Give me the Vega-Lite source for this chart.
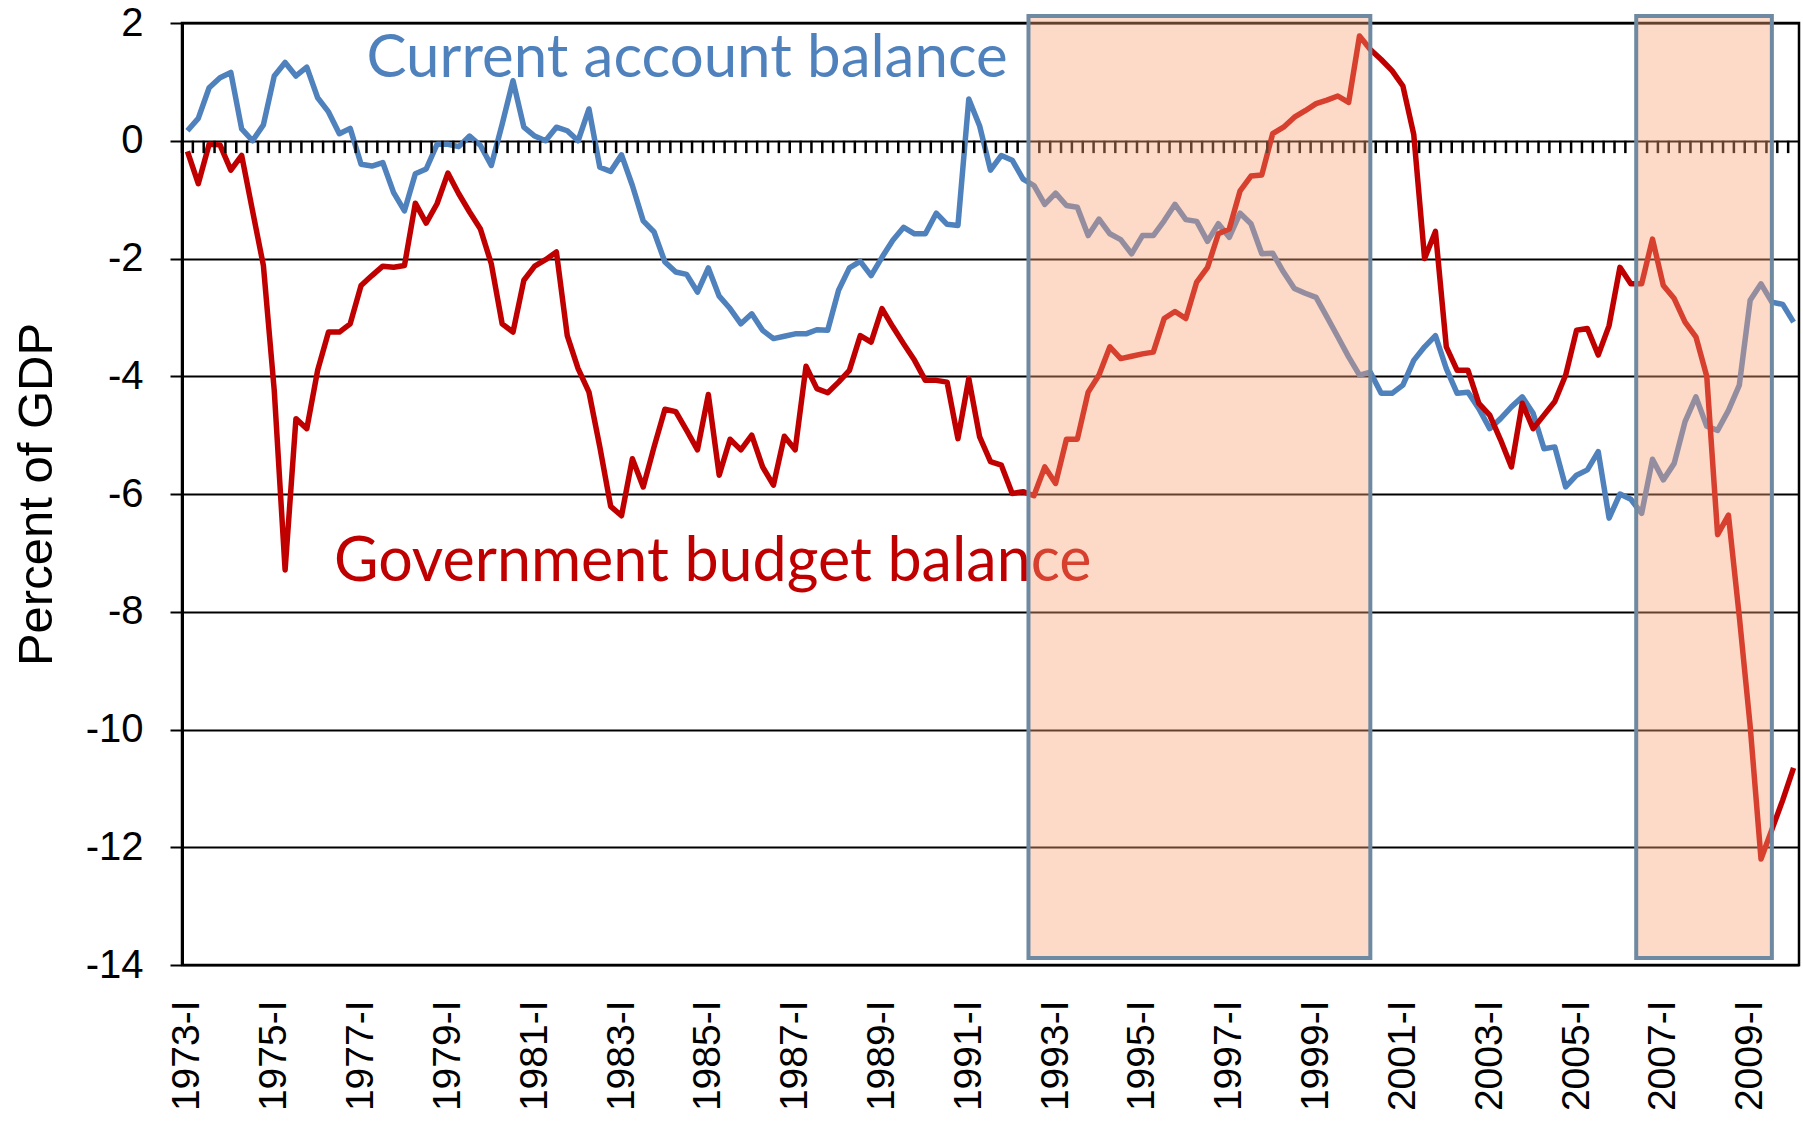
{
  "$schema": "https://vega.github.io/schema/vega-lite/v6.json",
  "width": 1617,
  "height": 942,
  "autosize": {"type": "none"},
  "padding": {"left": 182, "top": 23, "right": 4, "bottom": 158},
  "background": "white",
  "config": {
    "view": {"stroke": "black", "strokeWidth": 2.5},
    "font": "Liberation Sans"
  },
  "datasets": {
    "series": [
      {"q":"1973-I","ca":0.17,"gb":-0.18},{"q":"1973-II","ca":0.38,"gb":-0.73},{"q":"1973-III","ca":0.90,"gb":-0.06},{"q":"1973-IV","ca":1.07,"gb":-0.07},
      {"q":"1974-I","ca":1.16,"gb":-0.50},{"q":"1974-II","ca":0.20,"gb":-0.25},{"q":"1974-III","ca":0.00,"gb":-1.19},{"q":"1974-IV","ca":0.27,"gb":-2.12},
      {"q":"1975-I","ca":1.10,"gb":-4.24},{"q":"1975-II","ca":1.33,"gb":-7.29},{"q":"1975-III","ca":1.10,"gb":-4.72},{"q":"1975-IV","ca":1.25,"gb":-4.89},
      {"q":"1976-I","ca":0.73,"gb":-3.90},{"q":"1976-II","ca":0.49,"gb":-3.25},{"q":"1976-III","ca":0.12,"gb":-3.25},{"q":"1976-IV","ca":0.21,"gb":-3.11},
      {"q":"1977-I","ca":-0.40,"gb":-2.46},{"q":"1977-II","ca":-0.43,"gb":-2.29},{"q":"1977-III","ca":-0.37,"gb":-2.13},{"q":"1977-IV","ca":-0.88,"gb":-2.15},
      {"q":"1978-I","ca":-1.19,"gb":-2.12},{"q":"1978-II","ca":-0.56,"gb":-1.06},{"q":"1978-III","ca":-0.48,"gb":-1.40},{"q":"1978-IV","ca":-0.06,"gb":-1.07},
      {"q":"1979-I","ca":-0.06,"gb":-0.55},{"q":"1979-II","ca":-0.10,"gb":-0.90},{"q":"1979-III","ca":0.08,"gb":-1.21},{"q":"1979-IV","ca":-0.08,"gb":-1.50},
      {"q":"1980-I","ca":-0.42,"gb":-2.09},{"q":"1980-II","ca":0.28,"gb":-3.11},{"q":"1980-III","ca":1.02,"gb":-3.25},{"q":"1980-IV","ca":0.23,"gb":-2.37},
      {"q":"1981-I","ca":0.08,"gb":-2.13},{"q":"1981-II","ca":0.00,"gb":-2.02},{"q":"1981-III","ca":0.23,"gb":-1.89},{"q":"1981-IV","ca":0.17,"gb":-3.31},
      {"q":"1982-I","ca":0.00,"gb":-3.87},{"q":"1982-II","ca":0.54,"gb":-4.27},{"q":"1982-III","ca":-0.45,"gb":-5.20},{"q":"1982-IV","ca":-0.52,"gb":-6.21},
      {"q":"1983-I","ca":-0.24,"gb":-6.37},{"q":"1983-II","ca":-0.76,"gb":-5.40},{"q":"1983-III","ca":-1.36,"gb":-5.88},{"q":"1983-IV","ca":-1.55,"gb":-5.20},
      {"q":"1984-I","ca":-2.06,"gb":-4.56},{"q":"1984-II","ca":-2.23,"gb":-4.60},{"q":"1984-III","ca":-2.27,"gb":-4.92},{"q":"1984-IV","ca":-2.57,"gb":-5.25},
      {"q":"1985-I","ca":-2.16,"gb":-4.31},{"q":"1985-II","ca":-2.64,"gb":-5.68},{"q":"1985-III","ca":-2.85,"gb":-5.07},{"q":"1985-IV","ca":-3.11,"gb":-5.25},
      {"q":"1986-I","ca":-2.94,"gb":-5.00},{"q":"1986-II","ca":-3.22,"gb":-5.54},{"q":"1986-III","ca":-3.36,"gb":-5.85},{"q":"1986-IV","ca":-3.32,"gb":-5.02},
      {"q":"1987-I","ca":-3.28,"gb":-5.25},{"q":"1987-II","ca":-3.28,"gb":-3.83},{"q":"1987-III","ca":-3.21,"gb":-4.21},{"q":"1987-IV","ca":-3.22,"gb":-4.28},
      {"q":"1988-I","ca":-2.54,"gb":-4.10},{"q":"1988-II","ca":-2.16,"gb":-3.90},{"q":"1988-III","ca":-2.05,"gb":-3.31},{"q":"1988-IV","ca":-2.29,"gb":-3.42},
      {"q":"1989-I","ca":-1.98,"gb":-2.85},{"q":"1989-II","ca":-1.69,"gb":-3.16},{"q":"1989-III","ca":-1.47,"gb":-3.45},{"q":"1989-IV","ca":-1.58,"gb":-3.73},
      {"q":"1990-I","ca":-1.58,"gb":-4.07},{"q":"1990-II","ca":-1.23,"gb":-4.07},{"q":"1990-III","ca":-1.42,"gb":-4.10},{"q":"1990-IV","ca":-1.44,"gb":-5.06},
      {"q":"1991-I","ca":0.71,"gb":-4.04},{"q":"1991-II","ca":0.25,"gb":-5.03},{"q":"1991-III","ca":-0.50,"gb":-5.45},{"q":"1991-IV","ca":-0.25,"gb":-5.51},
      {"q":"1992-I","ca":-0.33,"gb":-5.99},{"q":"1992-II","ca":-0.65,"gb":-5.96},{"q":"1992-III","ca":-0.76,"gb":-6.03},{"q":"1992-IV","ca":-1.08,"gb":-5.54},
      {"q":"1993-I","ca":-0.89,"gb":-5.82},{"q":"1993-II","ca":-1.10,"gb":-5.07},{"q":"1993-III","ca":-1.13,"gb":-5.07},{"q":"1993-IV","ca":-1.61,"gb":-4.27},
      {"q":"1994-I","ca":-1.33,"gb":-3.98},{"q":"1994-II","ca":-1.58,"gb":-3.50},{"q":"1994-III","ca":-1.68,"gb":-3.70},{"q":"1994-IV","ca":-1.92,"gb":-3.66},
      {"q":"1995-I","ca":-1.61,"gb":-3.62},{"q":"1995-II","ca":-1.61,"gb":-3.59},{"q":"1995-III","ca":-1.36,"gb":-3.02},{"q":"1995-IV","ca":-1.08,"gb":-2.90},
      {"q":"1996-I","ca":-1.34,"gb":-3.02},{"q":"1996-II","ca":-1.37,"gb":-2.40},{"q":"1996-III","ca":-1.71,"gb":-2.15},{"q":"1996-IV","ca":-1.41,"gb":-1.58},
      {"q":"1997-I","ca":-1.64,"gb":-1.50},{"q":"1997-II","ca":-1.23,"gb":-0.85},{"q":"1997-III","ca":-1.41,"gb":-0.60},{"q":"1997-IV","ca":-1.92,"gb":-0.58},
      {"q":"1998-I","ca":-1.91,"gb":0.12},{"q":"1998-II","ca":-2.23,"gb":0.23},{"q":"1998-III","ca":-2.51,"gb":0.40},{"q":"1998-IV","ca":-2.59,"gb":0.51},
      {"q":"1999-I","ca":-2.66,"gb":0.63},{"q":"1999-II","ca":-2.99,"gb":0.69},{"q":"1999-III","ca":-3.33,"gb":0.76},{"q":"1999-IV","ca":-3.67,"gb":0.65},
      {"q":"2000-I","ca":-3.98,"gb":1.78},{"q":"2000-II","ca":-3.93,"gb":1.55},{"q":"2000-III","ca":-4.29,"gb":1.38},{"q":"2000-IV","ca":-4.29,"gb":1.19},
      {"q":"2001-I","ca":-4.15,"gb":0.93},{"q":"2001-II","ca":-3.73,"gb":0.11},{"q":"2001-III","ca":-3.50,"gb":-2.00},{"q":"2001-IV","ca":-3.31,"gb":-1.54},
      {"q":"2002-I","ca":-3.87,"gb":-3.50},{"q":"2002-II","ca":-4.29,"gb":-3.90},{"q":"2002-III","ca":-4.27,"gb":-3.90},{"q":"2002-IV","ca":-4.55,"gb":-4.46},
      {"q":"2003-I","ca":-4.89,"gb":-4.66},{"q":"2003-II","ca":-4.72,"gb":-5.08},{"q":"2003-III","ca":-4.52,"gb":-5.54},{"q":"2003-IV","ca":-4.35,"gb":-4.46},
      {"q":"2004-I","ca":-4.63,"gb":-4.89},{"q":"2004-II","ca":-5.23,"gb":-4.66},{"q":"2004-III","ca":-5.20,"gb":-4.43},{"q":"2004-IV","ca":-5.88,"gb":-3.98},
      {"q":"2005-I","ca":-5.68,"gb":-3.22},{"q":"2005-II","ca":-5.59,"gb":-3.19},{"q":"2005-III","ca":-5.28,"gb":-3.64},{"q":"2005-IV","ca":-6.41,"gb":-3.14},
      {"q":"2006-I","ca":-6.00,"gb":-2.15},{"q":"2006-II","ca":-6.09,"gb":-2.43},{"q":"2006-III","ca":-6.33,"gb":-2.43},{"q":"2006-IV","ca":-5.41,"gb":-1.67},
      {"q":"2007-I","ca":-5.76,"gb":-2.46},{"q":"2007-II","ca":-5.48,"gb":-2.68},{"q":"2007-III","ca":-4.77,"gb":-3.08},{"q":"2007-IV","ca":-4.35,"gb":-3.33},
      {"q":"2008-I","ca":-4.85,"gb":-4.00},{"q":"2008-II","ca":-4.92,"gb":-6.69},{"q":"2008-III","ca":-4.58,"gb":-6.36},{"q":"2008-IV","ca":-4.15,"gb":-8.08},
      {"q":"2009-I","ca":-2.71,"gb":-9.94},{"q":"2009-II","ca":-2.43,"gb":-12.2},{"q":"2009-III","ca":-2.74,"gb":-11.7},{"q":"2009-IV","ca":-2.78,"gb":-11.2},
      {"q":"2010-I","ca":-3.08,"gb":-10.65}
    ],
    "periods": [
      {"start": "1992-III", "end": "2000-II"},
      {"start": "2006-III", "end": "2009-III"}
    ]
  },
  "encoding": {},
  "layer": [
    {
      "data": {"name": "series"},
      "mark": {"type": "line", "color": "#4F81BD", "strokeWidth": 5.5, "strokeJoin": "round"},
      "encoding": {
        "x": {
          "field": "q", "type": "ordinal", "sort": null, "bandPosition": 0.5,
          "scale": {"type": "band", "paddingInner": 0, "paddingOuter": 0},
          "axis": {
            "orient": "bottom",
            "title": null,
            "values": ["1973-I","1975-I","1977-I","1979-I","1981-I","1983-I","1985-I","1987-I","1989-I","1991-I","1993-I","1995-I","1997-I","1999-I","2001-I","2003-I","2005-I","2007-I","2009-I"],
            "labelAngle": -90,
            "labelAlign": "right",
            "labelBaseline": "middle",
            "labelFontSize": 39,
            "labelFont": "Liberation Sans",
            "labelColor": "black",
            "labelPadding": 35,
            "labelOverlap": false,
            "ticks": false,
            "domain": false,
            "grid": false
          }
        },
        "y": {
          "field": "ca", "type": "quantitative",
          "scale": {"domain": [-14, 2], "nice": false, "zero": false},
          "axis": {
            "title": "Percent of GDP",
            "titleFont": "Liberation Sans",
            "titleFontSize": 49,
            "titleFontWeight": "normal",
            "titleColor": "black",
            "titlePadding": 24,
            "values": [2, 0, -2, -4, -6, -8, -10, -12, -14],
            "labelExpr": "'' + datum.value",
            "labelFontSize": 40,
            "labelFont": "Liberation Sans",
            "labelColor": "black",
            "labelPadding": 27,
            "tickSize": 12,
            "tickColor": "black",
            "tickWidth": 2,
            "domainColor": "black",
            "domainWidth": 3,
            "grid": true,
            "gridColor": "black",
            "gridWidth": 2,
            "gridOpacity": 1
          }
        }
      }
    },
    {
      "data": {"name": "series"},
      "mark": {"type": "line", "color": "#C00000", "strokeWidth": 5.5, "strokeJoin": "round"},
      "encoding": {
        "x": {"field": "q", "type": "ordinal", "sort": null, "bandPosition": 0.5},
        "y": {"field": "gb", "type": "quantitative"}
      }
    },
    {
      "data": {"name": "series"},
      "mark": {"type": "rule", "color": "black", "strokeWidth": 2.5},
      "encoding": {
        "x": {"field": "q", "type": "ordinal", "sort": null, "bandPosition": 0},
        "y": {"datum": 0},
        "y2": {"datum": -0.21}
      }
    },
    {
      "data": {"values": [{"label": "Current account balance"}]},
      "mark": {"type": "text", "font": "Lato", "fontSize": 60, "color": "#4F81BD", "align": "left", "baseline": "alphabetic"},
      "encoding": {
        "x": {"datum": "1977-II", "type": "ordinal", "bandPosition": 0},
        "y": {"datum": 1.085, "type": "quantitative"},
        "text": {"field": "label"}
      }
    },
    {
      "data": {"values": [{"label": "Government budget balance"}]},
      "mark": {"type": "text", "font": "Lato", "fontSize": 61, "color": "#C00000", "align": "left", "baseline": "alphabetic"},
      "encoding": {
        "x": {"datum": "1976-III", "type": "ordinal", "bandPosition": 0},
        "y": {"datum": -7.47, "type": "quantitative"},
        "text": {"field": "label"}
      }
    },
    {
      "data": {"name": "periods"},
      "mark": {"type": "rect", "fill": "#F9A173", "fillOpacity": 0.4, "stroke": "#6E8AA2", "strokeWidth": 4, "strokeOpacity": 1},
      "encoding": {
        "x": {"field": "start", "type": "ordinal", "bandPosition": 0},
        "x2": {"field": "end"},
        "y": {"datum": 2.12, "type": "quantitative"},
        "y2": {"datum": -13.88}
      }
    }
  ]
}
